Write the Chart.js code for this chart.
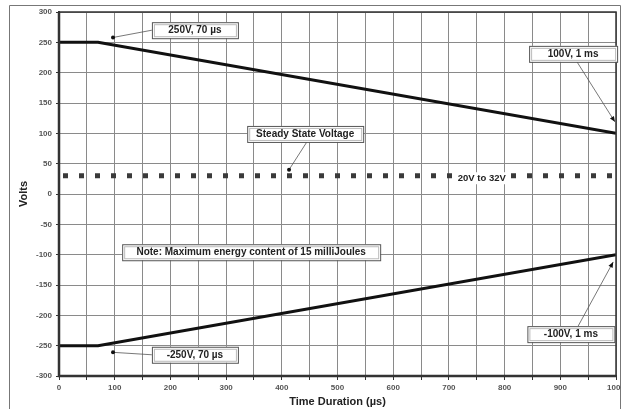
<!DOCTYPE html>
<html>
<head>
<meta charset="utf-8">
<script src="https://cdn.jsdelivr.net/npm/chart.js@4.4.1/dist/chart.umd.min.js"></script>
<style>
html,body{margin:0;padding:0;background:#fff;}
#c{display:block;}
</style>
</head>
<body>
<canvas id="c" width="621" height="409"></canvas>
<script>
// ---- data ----
const timeUs = [0, 70, 1000];
const upperVolts = [250, 250, 100];
const lowerVolts = [-250, -250, -100];
const steadyTime = [0, 1000];
const steadyVolts = [30, 30];
const xTickValues = [0, 100, 200, 300, 400, 500, 600, 700, 800, 900, 1000];
const yTickValues = [300, 250, 200, 150, 100, 50, 0, -50, -100, -150, -200, -250, -300];

const FONT = '"Liberation Sans", Arial, sans-serif';

// annotations: box centre and leader target in data coordinates, box width in px
const notes = [
  {text: '250V, 70 \u00b5s', bx: 244, by: 270, w: 86, from: 'left', tx: 97, ty: 258, end: 'dot'},
  {text: '100V, 1 ms', bx: 923, by: 231, w: 88, from: 'bottom', fx: 930, tx: 998, ty: 119, end: 'arrow'},
  {text: 'Steady State Voltage', bx: 442, by: 99, w: 116, from: 'bottom', fx: 445, tx: 413, ty: 40, end: 'dot'},
  {text: 'Note: Maximum energy content of 15 milliJoules', bx: 345, by: -96, w: 258, from: 'none'},
  {text: '-100V, 1 ms', bx: 919, by: -231, w: 87, from: 'top', fx: 932, tx: 995, ty: -112, end: 'arrow'},
  {text: '-250V, 70 \u00b5s', bx: 244, by: -265, w: 86, from: 'left', tx: 97, ty: -261, end: 'dot'}
];

const annotPlugin = {
  id: 'annot',
  beforeDraw(chart) {
    const ctx = chart.ctx;
    ctx.save();
    ctx.fillStyle = '#fff';
    ctx.fillRect(0, 0, chart.width, chart.height);
    ctx.strokeStyle = '#777';
    ctx.lineWidth = 1;
    ctx.beginPath();
    ctx.moveTo(9.5, 409);
    ctx.lineTo(9.5, 5.5);
    ctx.lineTo(620.5, 5.5);
    ctx.lineTo(620.5, 409);
    ctx.stroke();
    ctx.restore();
  },
  afterDraw(chart) {
    const ctx = chart.ctx;
    const xs = chart.scales.x, ys = chart.scales.y;
    const ca = chart.chartArea;
    ctx.save();
    // plot frame
    ctx.strokeStyle = '#333';
    ctx.lineWidth = 1.5;
    ctx.strokeRect(ca.left, ca.top, ca.right - ca.left, ca.bottom - ca.top);
    ctx.lineWidth = 2.5;
    ctx.beginPath();
    ctx.moveTo(ca.left, ca.top);
    ctx.lineTo(ca.left, ca.bottom);
    ctx.lineTo(ca.right, ca.bottom);
    ctx.stroke();

    ctx.font = 'bold 10px ' + FONT;
    ctx.textAlign = 'center';
    ctx.textBaseline = 'middle';
    notes.forEach(n => {
      const cx = xs.getPixelForValue(n.bx), cy = ys.getPixelForValue(n.by);
      const w = n.w, h = 16;
      const l = cx - w / 2, t = cy - h / 2;
      // leader
      if (n.from !== 'none') {
        let sx, sy;
        if (n.from === 'left') { sx = l; sy = cy; }
        else if (n.from === 'bottom') { sx = xs.getPixelForValue(n.fx); sy = t + h; }
        else { sx = xs.getPixelForValue(n.fx); sy = t; }
        const ex = xs.getPixelForValue(n.tx), ey = ys.getPixelForValue(n.ty);
        ctx.strokeStyle = '#555';
        ctx.lineWidth = 0.8;
        ctx.beginPath();
        ctx.moveTo(sx, sy);
        ctx.lineTo(ex, ey);
        ctx.stroke();
        ctx.fillStyle = '#111';
        if (n.end === 'dot') {
          ctx.beginPath();
          ctx.arc(ex, ey, 2, 0, Math.PI * 2);
          ctx.fill();
        } else {
          const a = Math.atan2(ey - sy, ex - sx);
          ctx.beginPath();
          ctx.moveTo(ex, ey);
          ctx.lineTo(ex - 6 * Math.cos(a - 0.4), ey - 6 * Math.sin(a - 0.4));
          ctx.lineTo(ex - 6 * Math.cos(a + 0.4), ey - 6 * Math.sin(a + 0.4));
          ctx.closePath();
          ctx.fill();
        }
      }
      ctx.fillStyle = '#fff';
      ctx.fillRect(l, t, w, h);
      ctx.strokeStyle = '#555';
      ctx.lineWidth = 1;
      ctx.strokeRect(l + 0.5, t + 0.5, w, h);
      ctx.strokeStyle = '#bbb';
      ctx.strokeRect(l + 2.5, t + 2.5, w - 4, h - 4);
      ctx.fillStyle = '#222';
      ctx.fillText(n.text, cx, cy + 0.5);
    });
    // steady state range text
    ctx.font = 'bold 9.5px ' + FONT;
    const txt = '20V to 32V';
    const tx = xs.getPixelForValue(759), ty = ys.getPixelForValue(26);
    const tw = ctx.measureText(txt).width;
    ctx.fillStyle = '#fff';
    ctx.fillRect(tx - tw / 2 - 4, ty - 6, tw + 8, 12);
    ctx.fillStyle = '#222';
    ctx.fillText(txt, tx, ty);
    ctx.restore();
  }
};

const tickFont = {family: FONT, size: 8, weight: 'bold'};

new Chart(document.getElementById('c'), {
  type: 'scatter',
  data: {
    datasets: [
      {
        data: timeUs.map((t, i) => ({x: t, y: upperVolts[i]})),
        showLine: true, borderColor: '#111', borderWidth: 3, pointRadius: 0, fill: false
      },
      {
        data: timeUs.map((t, i) => ({x: t, y: lowerVolts[i]})),
        showLine: true, borderColor: '#111', borderWidth: 3, pointRadius: 0, fill: false
      },
      {
        data: steadyTime.map((t, i) => ({x: t, y: steadyVolts[i]})),
        showLine: true, borderColor: '#3a3a3a', borderWidth: 5, borderDash: [5, 11],
        borderDashOffset: -4, pointRadius: 0, fill: false
      }
    ]
  },
  options: {
    responsive: false,
    animation: false,
    devicePixelRatio: 1,
    layout: {padding: {left: 0, top: 12, right: 5, bottom: 0}},
    plugins: {legend: {display: false}, tooltip: {enabled: false}},
    scales: {
      x: {
        type: 'linear', min: 0, max: 1000,
        afterFit(s) { s.height = 33; s.paddingRight = 0; s.paddingLeft = 0; },
        afterBuildTicks(s) {
          const t = [];
          for (let v = 0; v <= 1000; v += 50) t.push({value: v});
          s.ticks = t;
        },
        ticks: {
          autoSkip: false, maxRotation: 0, padding: 3, color: '#555', font: tickFont,
          callback: v => xTickValues.includes(v) ? String(v) : ''
        },
        grid: {color: '#8a8a8a', lineWidth: 1, tickLength: 4, tickColor: '#333'},
        border: {display: true, color: '#333', width: 2},
        title: {display: true, text: 'Time Duration (\u00b5s)', color: '#222',
          font: {family: FONT, size: 11, weight: 'bold'}, padding: {top: 0, bottom: 0}}
      },
      y: {
        type: 'linear', min: -300, max: 300,
        afterFit(s) { s.width = 59; s.paddingTop = 0; s.paddingBottom = 0; },
        afterBuildTicks(s) { s.ticks = yTickValues.map(v => ({value: v})); },
        ticks: {autoSkip: false, padding: 4, color: '#555', font: tickFont,
          callback: v => String(v)},
        grid: {color: '#8a8a8a', lineWidth: 1, tickLength: 3, tickColor: '#333'},
        border: {display: true, color: '#333', width: 2},
        title: {display: true, text: 'Volts', color: '#222',
          font: {family: FONT, size: 11, weight: 'bold'}, padding: {top: 17, bottom: 0}}
      }
    }
  },
  plugins: [annotPlugin]
});
</script>
</body>
</html>
